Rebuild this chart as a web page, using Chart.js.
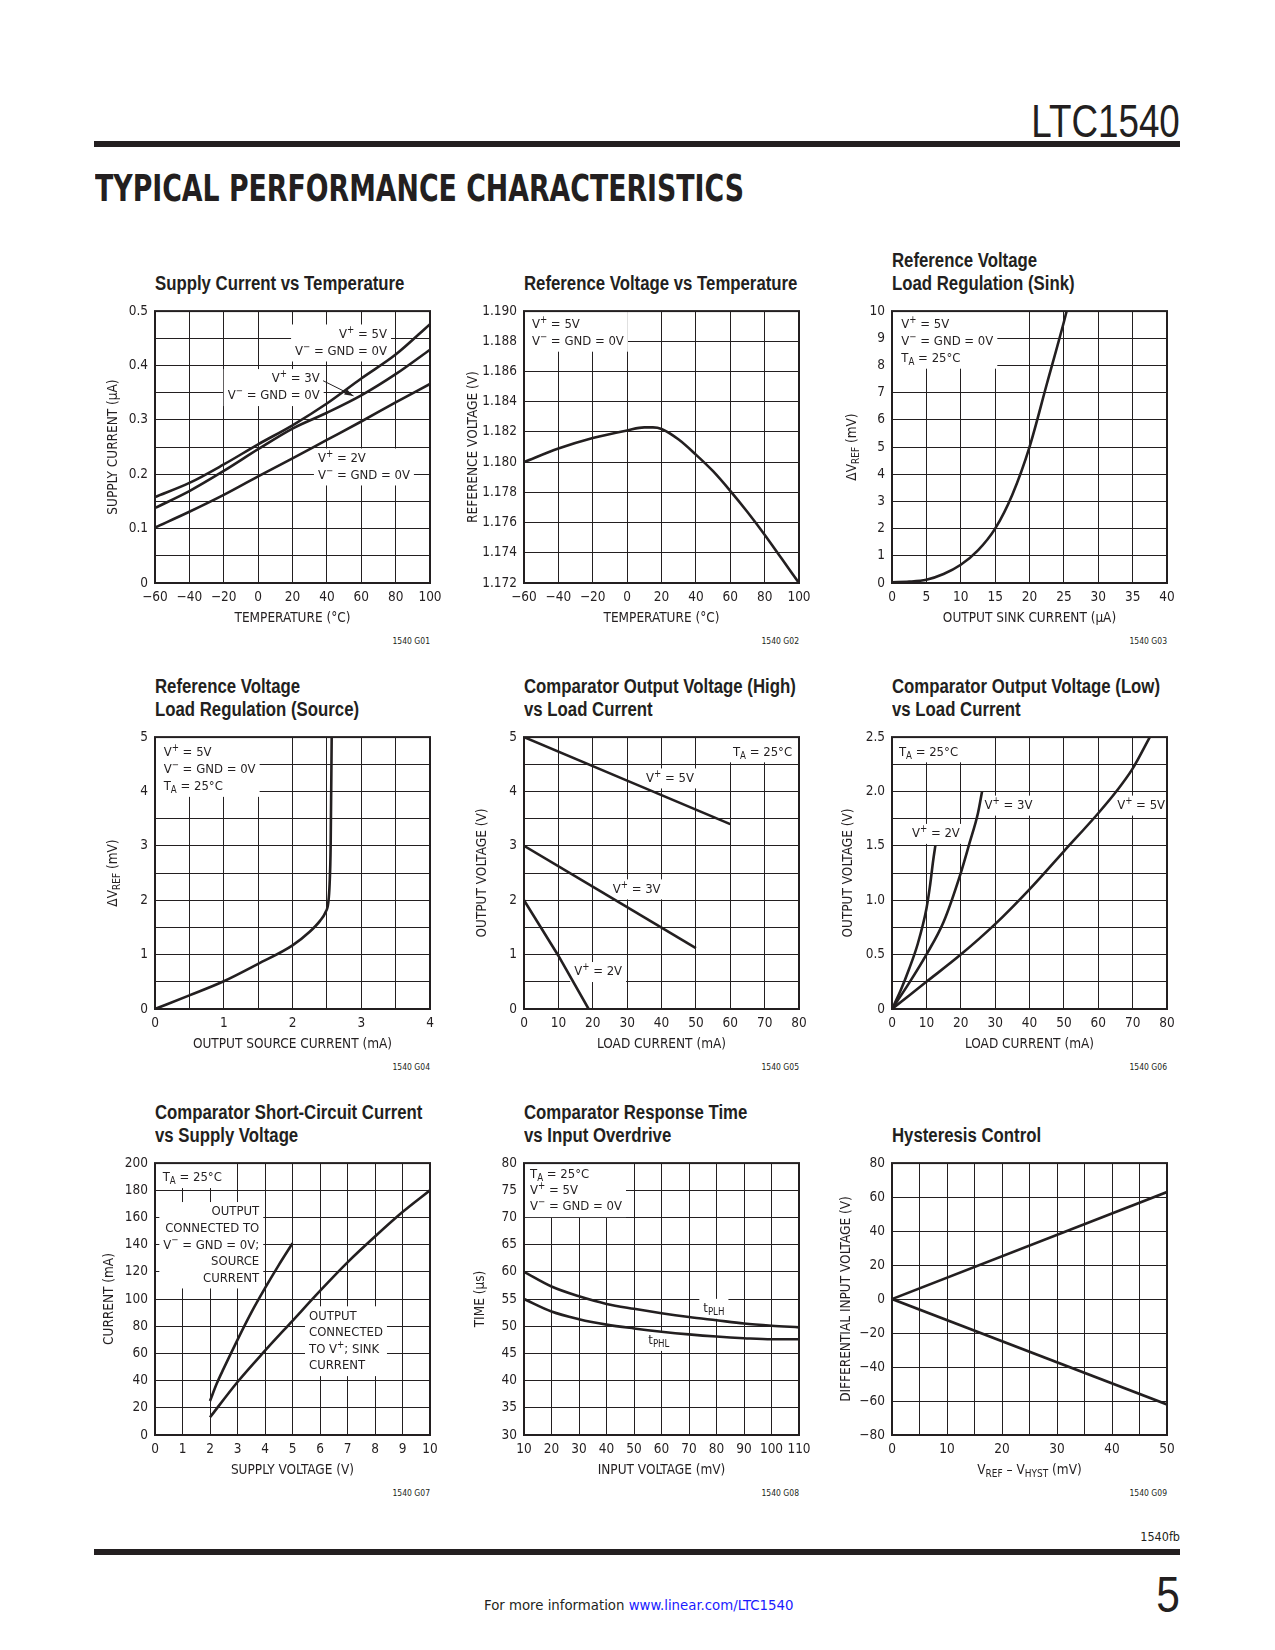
<!DOCTYPE html>
<html>
<head>
<meta charset="utf-8">
<title>LTC1540 Typical Performance Characteristics</title>
<script src="https://cdn.jsdelivr.net/npm/chart.js@4.4.1/dist/chart.umd.min.js"></script>
<style>
  body { margin: 0; background: #fff; }
  #page { position: relative; width: 1275px; height: 1650px; overflow: hidden; color: #231f20;
          font-family: "DejaVu Sans Condensed", "Liberation Sans", sans-serif; }
  #page div { position: absolute; white-space: nowrap; }
  #page canvas { position: absolute; }
  .bar { background: #231f20; height: 6px; left: 94px; width: 1086px; }
  .ttl { font-family: "Liberation Sans", Arial, sans-serif; font-weight: bold; font-size: 19.5px; line-height: 22.6px;
         transform: scaleX(0.86); transform-origin: 0 0; }
  .gno { font-size: 8.5px; line-height: 10px; text-align: right; width: 80px; }
</style>
</head>
<body>
<div id="page">
  <div style="right:95px;top:98px;font-size:46px;line-height:46px;font-family:'Liberation Sans',sans-serif;transform:scaleX(0.8);transform-origin:100% 0;">LTC1540</div>
  <div class="bar" style="top:141px"></div>
  <div id="heading" style="left:95px;top:170px;font-size:37px;line-height:37px;font-weight:bold;transform-origin:0 0;">TYPICAL PERFORMANCE CHARACTERISTICS</div>
  <div style="right:95px;top:1529px;font-size:12.5px;line-height:16px;">1540fb</div>
  <div class="bar" style="top:1549px"></div>
  <div style="left:484px;top:1595px;font-size:14.8px;line-height:20px;">For more information <span style="color:#1a1aff">www.linear.com/LTC1540</span></div>
  <div style="right:95px;top:1570px;font-size:50px;line-height:50px;font-family:'Liberation Sans',sans-serif;transform:scaleX(0.85);transform-origin:100% 0;">5</div>
</div>
<script>
const INK = '#231f20';
const FONT = '"DejaVu Sans Condensed", "Liberation Sans", sans-serif';

// G01 supply current vs temperature
const g01Temp = [-60, -40, -20, 0, 20, 40, 60, 80, 100];
const g01I5V = [0.158, 0.184, 0.218, 0.255, 0.290, 0.330, 0.376, 0.420, 0.476];
const g01I3V = [0.138, 0.169, 0.206, 0.246, 0.284, 0.313, 0.345, 0.384, 0.429];
const g01I2V = [0.102, 0.131, 0.162, 0.196, 0.229, 0.263, 0.297, 0.332, 0.366];
const g01XTicks = ['−60', '−40', '−20', '0', '20', '40', '60', '80', '100'];
const g01YTicks = ['0', '0.1', '0.2', '0.3', '0.4', '0.5'];

// G02 reference voltage vs temperature
const g02Temp = [-60, -40, -20, 0, 10, 15, 20, 30, 40, 50, 60, 70, 80, 90, 100];
const g02Vref = [1.1800, 1.1809, 1.1816, 1.1821, 1.1823, 1.1823, 1.1822, 1.1815, 1.1805, 1.1794, 1.1781, 1.1767, 1.1752, 1.1736, 1.1720];
const g02XTicks = g01XTicks;
const g02YTicks = ['1.172', '1.174', '1.176', '1.178', '1.180', '1.182', '1.184', '1.186', '1.188', '1.190'];

// G03 load regulation (sink)
const g03Isink = [0, 2.5, 5, 7.5, 10, 12.5, 15, 17.5, 20, 22.5, 25, 25.4];
const g03dV = [0.03, 0.05, 0.12, 0.33, 0.67, 1.2, 2.0, 3.25, 5.0, 7.3, 9.6, 10];
const g03XTicks = ['0', '5', '10', '15', '20', '25', '30', '35', '40'];
const g03YTicks = ['0', '1', '2', '3', '4', '5', '6', '7', '8', '9', '10'];

// G04 load regulation (source)
const g04Isrc = [0, 0.5, 1, 1.5, 2, 2.25, 2.4, 2.48, 2.52, 2.54, 2.555, 2.57];
const g04dV = [0, 0.25, 0.51, 0.83, 1.17, 1.42, 1.62, 1.78, 1.95, 2.3, 3.0, 5.0];
const g04XTicks = ['0', '1', '2', '3', '4'];
const g04YTicks = ['0', '1', '2', '3', '4', '5'];

// G05 output voltage high vs load current
const g05I5V = [0, 30, 60];
const g05V5V = [5, 4.2, 3.4];
const g05I3V = [0, 25, 50];
const g05V3V = [3, 2.06, 1.12];
const g05I2V = [0, 10, 18.8];
const g05V2V = [2, 0.98, 0];
const g05XTicks = ['0', '10', '20', '30', '40', '50', '60', '70', '80'];
const g05YTicks = ['0', '1', '2', '3', '4', '5'];

// G06 output voltage low vs load current
const g06I2V = [0, 2.5, 5, 7.5, 10, 11, 12, 12.6];
const g06V2V = [0, 0.17, 0.37, 0.6, 0.92, 1.12, 1.37, 1.5];
const g06I3V = [0, 5, 10, 15, 20, 22.5, 25, 26.2];
const g06V3V = [0, 0.24, 0.5, 0.8, 1.25, 1.52, 1.8, 2.0];
const g06I5V = [0, 10, 20, 30, 40, 50, 60, 65, 70, 75];
const g06V5V = [0, 0.25, 0.5, 0.78, 1.1, 1.45, 1.8, 1.99, 2.21, 2.5];
const g06XTicks = g05XTicks;
const g06YTicks = ['0', '0.5', '1.0', '1.5', '2.0', '2.5'];

// G07 short-circuit current vs supply voltage
const g07VsSrc = [2, 2.25, 2.5, 3, 3.5, 4, 4.5, 5];
const g07ISrc = [25, 38, 49, 70, 90, 108, 125, 141];
const g07VsSink = [2, 3, 4, 5, 6, 7, 8, 9, 10];
const g07ISink = [13, 39, 62, 84, 106, 127, 146, 164, 180];
const g07XTicks = ['0', '1', '2', '3', '4', '5', '6', '7', '8', '9', '10'];
const g07YTicks = ['0', '20', '40', '60', '80', '100', '120', '140', '160', '180', '200'];

// G08 response time vs input overdrive
const g08Vin = [10, 20, 30, 40, 50, 60, 70, 80, 90, 100, 110];
const g08tPLH = [60, 57.3, 55.5, 54.1, 53.2, 52.4, 51.7, 51.1, 50.5, 50.1, 49.8];
const g08tPHL = [55, 52.7, 51.3, 50.3, 49.6, 49.0, 48.5, 48.1, 47.8, 47.6, 47.6];
const g08XTicks = ['10', '20', '30', '40', '50', '60', '70', '80', '90', '100', '110'];
const g08YTicks = ['30', '35', '40', '45', '50', '55', '60', '65', '70', '75', '80'];

// G09 hysteresis control
const g09Vh = [0, 50];
const g09Up = [0, 63];
const g09Down = [0, -62];
const g09XTicks = ['0', '10', '20', '30', '40', '50'];
const g09YTicks = ['−80', '−60', '−40', '−20', '0', '20', '40', '60', '80'];

const PLOT = 275;
const COLS = [155, 524, 892];
const ROWS = [308, 734, 1160];
const PAD_L = 64, PAD_T = 12, PAD_R = 22, PAD_B = 48;
const TICK_SIZE = 13.5, NOTE_SIZE = 13, TITLE_SIZE = 13.5;

function pts(xs, ys) { return xs.map((x, i) => ({ x: x, y: ys[i] })); }

function parseRich(s) {
  const segs = [], re = /([\^_])\{([^}]*)\}/g;
  let last = 0, m;
  while ((m = re.exec(s))) {
    if (m.index > last) segs.push({ t: s.slice(last, m.index), k: '' });
    segs.push({ t: m[2], k: m[1] === '^' ? 'sup' : 'sub' });
    last = re.lastIndex;
  }
  if (last < s.length) segs.push({ t: s.slice(last), k: '' });
  return segs;
}
function segFont(k, size) { return (k ? size * 0.74 : size) + 'px ' + FONT; }
function richWidth(ctx, s, size) {
  let w = 0;
  parseRich(s).forEach(g => { ctx.font = segFont(g.k, size); w += ctx.measureText(g.t).width; });
  return w;
}
function drawRich(ctx, s, x, y, align, size) {
  const w = richWidth(ctx, s, size);
  let cx = align === 'right' ? x - w : align === 'center' ? x - w / 2 : x;
  ctx.textAlign = 'left';
  ctx.textBaseline = 'middle';
  parseRich(s).forEach(g => {
    ctx.font = segFont(g.k, size);
    const dy = g.k === 'sup' ? -size * 0.33 : g.k === 'sub' ? size * 0.3 : 0;
    ctx.fillText(g.t, cx, y + dy);
    cx += ctx.measureText(g.t).width;
  });
}

const specs = {};

const deco = {
  id: 'deco',
  beforeDatasetsDraw(chart) {
    const sp = specs[chart.canvas.id];
    if (!sp) return;
    const ctx = chart.ctx, a = chart.chartArea, sx = chart.scales.x, sy = chart.scales.y;
    ctx.save();
    (sp.notes || []).forEach(n => {
      const size = NOTE_SIZE, lh = n.lh || 17;
      const px = sx.getPixelForValue(n.x), py = sy.getPixelForValue(n.y);
      let w = 0;
      n.lines.forEach(l => { w = Math.max(w, richWidth(ctx, l, size)); });
      let l = n.align === 'right' ? px - w - 4 : px - 4;
      let r = l + w + 8;
      let t = py - 10, b = py + (n.lines.length - 1) * lh + 10;
      if (n.box === 'tl') { l = a.left; t = a.top; }
      if (n.box === 'tr') { r = a.right; t = a.top; }
      ctx.fillStyle = '#fff';
      ctx.fillRect(l, t, r - l, b - t);
      ctx.fillStyle = INK;
      n.lines.forEach((line, i) => drawRich(ctx, line, px, py + i * lh, n.align || 'left', size));
    });
    (sp.arrows || []).forEach(ar => {
      const x1 = sx.getPixelForValue(ar[0]), y1 = sy.getPixelForValue(ar[1]);
      const x2 = sx.getPixelForValue(ar[2]), y2 = sy.getPixelForValue(ar[3]);
      const ang = Math.atan2(y2 - y1, x2 - x1);
      ctx.strokeStyle = INK; ctx.fillStyle = INK; ctx.lineWidth = 1;
      ctx.beginPath(); ctx.moveTo(x1, y1); ctx.lineTo(x2, y2); ctx.stroke();
      ctx.beginPath();
      ctx.moveTo(x2, y2);
      ctx.lineTo(x2 - 9 * Math.cos(ang) + 3 * Math.sin(ang), y2 - 9 * Math.sin(ang) - 3 * Math.cos(ang));
      ctx.lineTo(x2 - 9 * Math.cos(ang) - 3 * Math.sin(ang), y2 - 9 * Math.sin(ang) + 3 * Math.cos(ang));
      ctx.closePath(); ctx.fill();
    });
    ctx.restore();
  },
  afterDraw(chart) {
    const sp = specs[chart.canvas.id];
    if (!sp) return;
    const ctx = chart.ctx, a = chart.chartArea;
    ctx.save();
    ctx.strokeStyle = INK;
    ctx.lineWidth = 2;
    ctx.strokeRect(a.left, a.top, a.right - a.left, a.bottom - a.top);
    ctx.fillStyle = INK;
    drawRich(ctx, sp.xTitle, (a.left + a.right) / 2, a.bottom + 35, 'center', TITLE_SIZE);
    ctx.translate(a.left - sp.yOff, (a.top + a.bottom) / 2);
    ctx.rotate(-Math.PI / 2);
    drawRich(ctx, sp.yTitle, 0, 0, 'center', TITLE_SIZE);
    ctx.restore();
  }
};
Chart.register(deco);

function tickFn(labels) {
  const vals = labels.map(l => parseFloat(l.replace('−', '-')));
  return function (v) {
    for (let i = 0; i < vals.length; i++) {
      if (Math.abs(vals[i] - v) < 1e-7) return labels[i];
    }
    return '';
  };
}

function axis(min, max, step, labels, isX) {
  return {
    type: 'linear',
    min: min, max: max,
    ticks: {
      stepSize: step, autoSkip: false, maxRotation: 0, padding: isX ? 6 : 7,
      color: INK, font: { family: FONT, size: TICK_SIZE },
      callback: tickFn(labels)
    },
    grid: { color: INK, lineWidth: 1, drawTicks: false },
    border: { display: false },
    afterFit: isX ? (s => { s.height = PAD_B; }) : (s => { s.width = PAD_L; })
  };
}

function panel(id, col, row, titleLines, spec) {
  const page = document.getElementById('page');
  const left = COLS[col], top = ROWS[row];
  const t = document.createElement('div');
  t.className = 'ttl';
  t.style.left = left + 'px';
  t.style.top = (top - 25 - 11.3 - 22.6 * (titleLines.length - 1)) + 'px';
  t.innerHTML = titleLines.join('<br>');
  page.appendChild(t);
  const g = document.createElement('div');
  g.className = 'gno';
  g.style.left = (left + PLOT - 80) + 'px';
  g.style.top = (top + PLOT + 53) + 'px';
  g.textContent = '1540 ' + id.toUpperCase();
  page.appendChild(g);
  const c = document.createElement('canvas');
  c.id = id;
  c.width = PAD_L + PLOT + PAD_R;
  c.height = PAD_T + PLOT + PAD_B;
  c.style.left = (left - PAD_L) + 'px';
  c.style.top = (top - PAD_T) + 'px';
  page.appendChild(c);
  specs[id] = spec;
  new Chart(c, {
    type: 'scatter',
    data: {
      datasets: spec.series.map(s => ({
        data: s, showLine: true, borderColor: INK, backgroundColor: INK,
        borderWidth: 2.6, pointRadius: 0,
        cubicInterpolationMode: spec.smooth ? 'monotone' : 'default', tension: 0
      }))
    },
    options: {
      responsive: false, animation: false, devicePixelRatio: 1,
      layout: { padding: { top: PAD_T, right: PAD_R, left: 0, bottom: 0 } },
      plugins: { legend: { display: false }, tooltip: { enabled: false } },
      scales: {
        x: axis(spec.x[0], spec.x[1], spec.x[2], spec.x[3], true),
        y: axis(spec.y[0], spec.y[1], spec.y[2], spec.y[3], false)
      }
    }
  });
}

const VM = 'V^{−} = GND = 0V';

panel('g01', 0, 0, ['Supply Current vs Temperature'], {
  x: [-60, 100, 20, g01XTicks], y: [0, 0.5, 0.05, g01YTicks], smooth: true,
  series: [pts(g01Temp, g01I5V), pts(g01Temp, g01I3V), pts(g01Temp, g01I2V)],
  xTitle: 'TEMPERATURE (°C)', yTitle: 'SUPPLY CURRENT (µA)', yOff: 42,
  notes: [
    { x: 75, y: 0.457, align: 'right', lines: ['V^{+} = 5V', VM] },
    { x: 35.8, y: 0.375, align: 'right', lines: ['V^{+} = 3V', VM] },
    { x: 34.8, y: 0.229, align: 'left', lines: ['V^{+} = 2V', VM] }
  ],
  arrows: [[37.8, 0.372, 55.5, 0.344]]
});

panel('g02', 1, 0, ['Reference Voltage vs Temperature'], {
  x: [-60, 100, 20, g02XTicks], y: [1.172, 1.190, 0.002, g02YTicks], smooth: true,
  series: [pts(g02Temp, g02Vref)],
  xTitle: 'TEMPERATURE (°C)', yTitle: 'REFERENCE VOLTAGE (V)', yOff: 51,
  notes: [{ x: -55.4, y: 1.1891, box: 'tl', lines: ['V^{+} = 5V', VM] }]
});

panel('g03', 2, 0, ['Reference Voltage', 'Load Regulation (Sink)'], {
  x: [0, 40, 5, g03XTicks], y: [0, 10, 1, g03YTicks], smooth: true,
  series: [pts(g03Isink, g03dV)],
  xTitle: 'OUTPUT SINK CURRENT (µA)', yTitle: 'ΔV_{REF} (mV)', yOff: 40,
  notes: [{ x: 1.36, y: 9.5, box: 'tl', lines: ['V^{+} = 5V', VM, 'T_{A} = 25°C'] }]
});

panel('g04', 0, 1, ['Reference Voltage', 'Load Regulation (Source)'], {
  x: [0, 4, 0.5, g04XTicks], y: [0, 5, 0.5, g04YTicks], smooth: true,
  series: [pts(g04Isrc, g04dV)],
  xTitle: 'OUTPUT SOURCE CURRENT (mA)', yTitle: 'ΔV_{REF} (mV)', yOff: 42,
  notes: [{ x: 0.126, y: 4.71, box: 'tl', lines: ['V^{+} = 5V', VM, 'T_{A} = 25°C'] }]
});

panel('g05', 1, 1, ['Comparator Output Voltage (High)', 'vs Load Current'], {
  x: [0, 80, 10, g05XTicks], y: [0, 5, 0.5, g05YTicks], smooth: false,
  series: [pts(g05I5V, g05V5V), pts(g05I3V, g05V3V), pts(g05I2V, g05V2V)],
  xTitle: 'LOAD CURRENT (mA)', yTitle: 'OUTPUT VOLTAGE (V)', yOff: 42,
  notes: [
    { x: 78, y: 4.72, align: 'right', box: 'tr', lines: ['T_{A} = 25°C'] },
    { x: 35.5, y: 4.24, lines: ['V^{+} = 5V'] },
    { x: 25.8, y: 2.2, lines: ['V^{+} = 3V'] },
    { x: 14.6, y: 0.68, lines: ['V^{+} = 2V'] }
  ]
});

panel('g06', 2, 1, ['Comparator Output Voltage (Low)', 'vs Load Current'], {
  x: [0, 80, 10, g06XTicks], y: [0, 2.5, 0.25, g06YTicks], smooth: true,
  series: [pts(g06I2V, g06V2V), pts(g06I3V, g06V3V), pts(g06I5V, g06V5V)],
  xTitle: 'LOAD CURRENT (mA)', yTitle: 'OUTPUT VOLTAGE (V)', yOff: 44,
  notes: [
    { x: 2, y: 2.36, box: 'tl', lines: ['T_{A} = 25°C'] },
    { x: 5.8, y: 1.61, lines: ['V^{+} = 2V'] },
    { x: 26.9, y: 1.87, lines: ['V^{+} = 3V'] },
    { x: 65.5, y: 1.87, lines: ['V^{+} = 5V'] }
  ]
});

panel('g07', 0, 2, ['Comparator Short-Circuit Current', 'vs Supply Voltage'], {
  x: [0, 10, 1, g07XTicks], y: [0, 200, 20, g07YTicks], smooth: true,
  series: [pts(g07VsSrc, g07ISrc), pts(g07VsSink, g07ISink)],
  xTitle: 'SUPPLY VOLTAGE (V)', yTitle: 'CURRENT (mA)', yOff: 46,
  notes: [
    { x: 0.28, y: 189, box: 'tl', lines: ['T_{A} = 25°C'] },
    { x: 3.79, y: 164, align: 'right', lh: 16.6, lines: ['OUTPUT', 'CONNECTED TO', 'V^{−} = GND = 0V;', 'SOURCE', 'CURRENT'] },
    { x: 5.6, y: 87.3, lh: 16.6, lines: ['OUTPUT', 'CONNECTED', 'TO V^{+}; SINK', 'CURRENT'] }
  ]
});

panel('g08', 1, 2, ['Comparator Response Time', 'vs Input Overdrive'], {
  x: [10, 110, 10, g08XTicks], y: [30, 80, 5, g08YTicks], smooth: true,
  series: [pts(g08Vin, g08tPLH), pts(g08Vin, g08tPHL)],
  xTitle: 'INPUT VOLTAGE (mV)', yTitle: 'TIME (µs)', yOff: 44,
  notes: [
    { x: 12.2, y: 77.9, box: 'tl', lh: 16.3, lines: ['T_{A} = 25°C', 'V^{+} = 5V', VM] },
    { x: 75.2, y: 53.2, lines: ['t_{PLH}'] },
    { x: 55.2, y: 47.3, lines: ['t_{PHL}'] }
  ]
});

panel('g09', 2, 2, ['Hysteresis Control'], {
  x: [0, 50, 5, g09XTicks], y: [-80, 80, 20, g09YTicks], smooth: false,
  series: [pts(g09Vh, g09Up), pts(g09Vh, g09Down)],
  xTitle: 'V_{REF} – V_{HYST} (mV)', yTitle: 'DIFFERENTIAL INPUT VOLTAGE (V)', yOff: 46,
  notes: []
});

const head = document.getElementById('heading');
head.style.transform = 'scaleX(' + (649 / head.getBoundingClientRect().width) + ')';
</script>
</body>
</html>
